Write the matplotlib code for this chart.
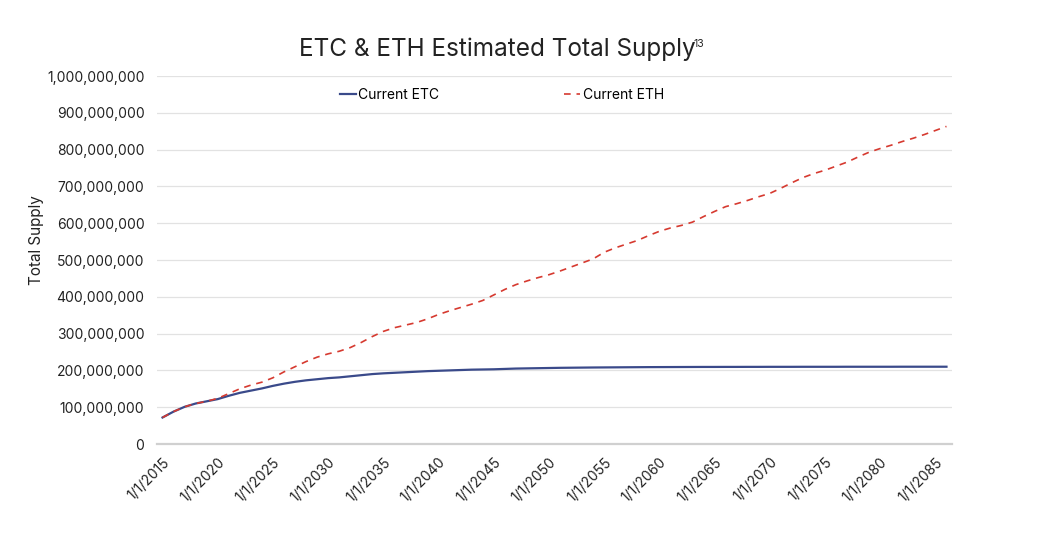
import numpy as np
import matplotlib
matplotlib.use('Agg')
import matplotlib.pyplot as plt
from matplotlib.ticker import FuncFormatter

plt.rcParams['font.family'] = ['Inter', 'DejaVu Sans']

# yearly estimates (millions of coins)
years = list(range(2015, 2087))
etc_supply = [72, 88, 101, 110, 116, 122, 131, 139, 145, 151,
              158, 164, 169, 173, 176, 179, 181, 184, 187, 190,
              192, 193.5, 195, 196.5, 198, 199, 200, 201, 202, 202.5,
              203, 204, 205, 205.5, 206, 206.5, 207, 207.3, 207.6, 207.9,
              208.1, 208.3, 208.5, 208.7, 208.9, 209, 209.1, 209.2, 209.3, 209.4,
              209.4, 209.5, 209.5, 209.6, 209.6, 209.7, 209.7, 209.7, 209.8, 209.8,
              209.8, 209.8, 209.9, 209.9, 209.9, 209.9, 209.9, 210, 210, 210,
              210, 210]
eth_supply = [72, 88, 101, 110, 116, 124, 137, 150, 160, 168,
              180, 196, 210, 224, 236, 245, 252, 262, 276, 292,
              306, 316, 323, 330, 340, 352, 362, 371, 380, 390,
              405, 420, 433, 443, 452, 460, 470, 481, 492, 503,
              521, 533, 543, 553, 566, 578, 587, 594, 603, 618,
              632, 645, 653, 662, 672, 681, 695, 710, 724, 735,
              744, 755, 766, 780, 793, 803, 812, 822, 831, 841,
              852, 863]
tick_years = list(range(2015, 2086, 5))
tick_labels = ['1/1/%d' % y for y in tick_years]

etc_supply = np.array(etc_supply) * 1e6
eth_supply = np.array(eth_supply) * 1e6

fig = plt.figure(figsize=(10.4, 5.52), dpi=100)
ax = fig.add_axes([157/1040, 1-444/552, (952-157)/1040, (444-76)/552])

ax.plot(years, etc_supply, color='#3a4a8a', lw=1.6, label='Current ETC')
ax.plot(years, eth_supply, color='#d63a30', lw=1.2, ls=(0, (4, 3.5)), label='Current ETH')

ax.set_xlim(2014.5, 2086.5)
ax.set_ylim(0, 1e9)
ax.set_yticks(np.arange(0, 1.0001e9, 1e8))
ax.yaxis.set_major_formatter(FuncFormatter(lambda v, p: '{:,.0f}'.format(v)))
ax.set_xticks(tick_years)
ax.set_xticklabels(tick_labels, rotation=45, ha='right', rotation_mode='anchor')

ax.grid(axis='y', color='#e2e2e2', lw=0.9)
ax.set_axisbelow(True)
for s in ['top', 'right', 'left']:
    ax.spines[s].set_visible(False)
ax.spines['bottom'].set_color('#d0d0d0')
ax.spines['bottom'].set_linewidth(1.6)
ax.tick_params(axis='both', length=0, labelsize=10, colors='#222222')
ax.tick_params(axis='y', pad=9)
ax.tick_params(axis='x', pad=8)

ax.set_ylabel('Total Supply', fontsize=11, color='#222222')
ax.yaxis.set_label_coords(-0.142, 0.554)

ax.legend(loc='center', bbox_to_anchor=(0.434, 0.948), ncol=2, frameon=False,
          fontsize=10, handlelength=1.15, handletextpad=0.2, columnspacing=9)

fig.text(0.478, 1-49/552, 'ETC & ETH Estimated Total Supply', ha='center', va='center',
         fontsize=17.5, color='#222222')
fig.text(0.667, 1-44/552, '13', ha='left', va='center', fontsize=7.5, color='#222222')

fig.savefig('out.png', dpi=100)
